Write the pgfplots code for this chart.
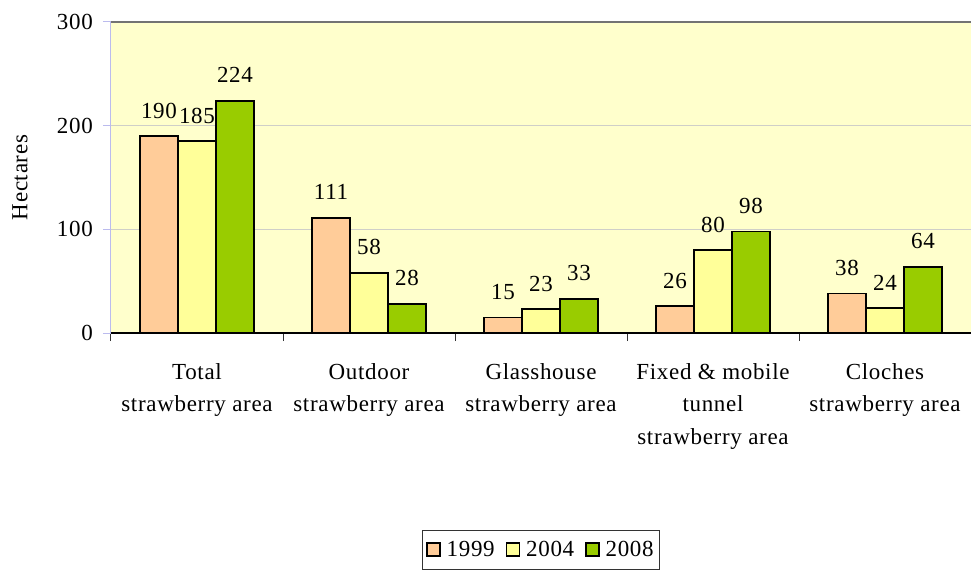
\documentclass[border=0pt]{standalone}
\usepackage{pgfplots}
\pgfplotsset{compat=1.18}
\usepackage{fontspec}
\setmainfont{Liberation Serif}[LetterSpace=3]
\definecolor{cA}{HTML}{FFCC99}
\definecolor{cB}{HTML}{FFFF99}
\definecolor{cC}{HTML}{99CC00}
\definecolor{bgc}{HTML}{FFFFCC}
\definecolor{lav}{HTML}{BBBBEE}
\definecolor{gridc}{HTML}{CFCFC8}
\newcommand\f{\fontsize{23}{32.5}\selectfont}
\begin{document}
\begin{tikzpicture}[x=1pt,y=1pt]
\begin{axis}[
  at={(0,0)}, anchor=south west,
  scale only axis, width=860pt, height=311pt,
  ybar=0pt, bar width=38pt,
  xmin=-0.5, xmax=4.5, ymin=0, ymax=300,
  axis background/.style={fill=bgc},
  axis x line*=bottom, axis y line*=left,
  x axis line style={black, line width=1.2pt, -},
  y axis line style={lav, line width=1pt, -},
  tick align=outside,
  ytick={0,100,200,300},
  ytick style={draw=lav, line width=1pt},
  major tick length=8pt,
  ymajorgrids, grid style={draw=gridc, line width=1.2pt},
  yticklabel style={font=\f, inner sep=0pt, xshift=-10pt},
  /pgf/number format/assume math mode=true,
  xtick={-0.5,0.5,1.5,2.5,3.5,4.5},
  xticklabels={},
  xtick style={draw=black!80, line width=1pt},
  extra x ticks={0,1,2,3,4},
  extra x tick labels={{Total\\strawberry area},{Outdoor\\strawberry area},{Glasshouse\\strawberry area},{Fixed \& mobile\\tunnel\\strawberry area},{Cloches\\strawberry area}},
  extra x tick style={major tick length=0pt, tick style={draw=none},
     xticklabel style={font=\f, align=center, inner sep=0pt, yshift=-30pt}},
  ylabel={Hectares},
  every axis y label/.style={at={(rel axis cs:0,0.5)}, xshift=-91pt, rotate=90, anchor=center, font=\f},
  nodes near coords,
  nodes near coords style={font=\f, anchor=base, inner sep=0pt, yshift=18pt, black},
  every axis plot/.append style={draw=black, line width=1.7pt},
  legend columns=3,
  legend style={at={(0.5,-0.698)}, anchor=center, draw=black!80, line width=1.2pt, font=\f,
     inner xsep=4pt, inner ysep=9pt,
     /tikz/every odd column/.append style={column sep=4pt},
     /tikz/every even column/.append style={column sep=9pt},
     nodes={inner xsep=2pt}},
  legend image code/.code={\draw[#1, line width=1.4pt] (0pt,-6pt) rectangle (13pt,7pt);},
]
\addplot[fill=cA] coordinates {(0,190) (1,111) (2,15) (3,26) (4,38)};
\addplot[fill=cB] coordinates {(0,185) (1,58) (2,23) (3,80) (4,24)};
\addplot[fill=cC] coordinates {(0,224) (1,28) (2,33) (3,98) (4,64)};
\legend{1999,2004,2008}
\draw[black!55, line width=1.6pt] (rel axis cs:0,1) -- (rel axis cs:1,1);
\draw[black!40, line width=1pt] (rel axis cs:1,1) -- (rel axis cs:1,0);
\end{axis}
\pgfresetboundingbox
\path[use as bounding box] (-111,-237) rectangle (860,333);
\end{tikzpicture}
\end{document}
